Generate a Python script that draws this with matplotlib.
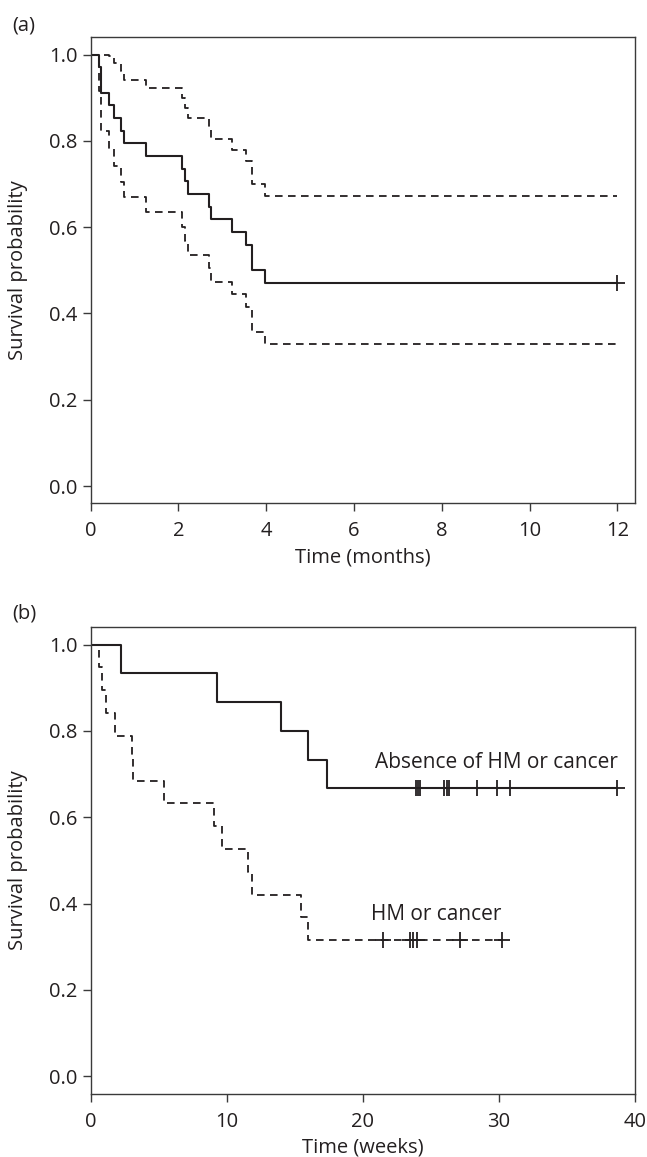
import matplotlib
matplotlib.use("Agg")
import matplotlib.pyplot as plt

plt.rcParams['font.family'] = ['Open Sans', 'DejaVu Sans']

INK = '#231f20'

# ---------------- Panel (a) data (months) ----------------
times_a = [0, 0.19, 0.24, 0.42, 0.52, 0.68, 0.77, 1.25, 2.07, 2.14, 2.22,
           2.69, 2.75, 3.21, 3.54, 3.67, 3.96, 12.0]
surv_a = [1.0, 0.971, 0.912, 0.882, 0.853, 0.824, 0.794, 0.765, 0.735, 0.706,
          0.676, 0.647, 0.618, 0.588, 0.559, 0.500, 0.471, 0.471]
upper_a = [1.0, 1.0, 1.0, 0.997, 0.981, 0.963, 0.942, 0.922, 0.899, 0.877,
           0.853, 0.829, 0.805, 0.779, 0.753, 0.700, 0.672, 0.672]
lower_a = [1.0, 0.916, 0.822, 0.780, 0.742, 0.705, 0.669, 0.635, 0.601, 0.568,
           0.536, 0.505, 0.474, 0.444, 0.415, 0.357, 0.330, 0.330]
censor_a_t = [12.0]
censor_a_s = [0.471]

# ---------------- Panel (b) data (weeks) ----------------
times_absent = [0, 2.23, 9.26, 14.02, 16.0, 17.37, 38.7]
surv_absent = [1.0, 0.933, 0.867, 0.800, 0.733, 0.667, 0.667]
censor_absent_t = [23.9, 24.04, 24.19, 26.0, 26.17, 26.34, 28.38, 29.85, 30.82, 38.7]
censor_absent_s = [0.667] * 10

times_hm = [0, 0.61, 0.85, 1.1, 1.79, 3.01, 3.13, 5.41, 9.09, 9.63, 11.59,
            11.88, 15.46, 15.95, 30.22]
surv_hm = [1.0, 0.947, 0.895, 0.842, 0.789, 0.737, 0.684, 0.632, 0.579, 0.526,
           0.474, 0.421, 0.368, 0.316, 0.316]
censor_hm_t = [21.5, 23.48, 23.72, 23.97, 27.15, 30.22]
censor_hm_s = [0.316] * 6

yticks = [0.0, 0.2, 0.4, 0.6, 0.8, 1.0]
yticklabels = ['0.0', '0.2', '0.4', '0.6', '0.8', '1.0']
xticks_a = [0, 2, 4, 6, 8, 10, 12]
xticks_b = [0, 10, 20, 30, 40]

W, H = 647, 1157
fig = plt.figure(figsize=(W / 100, H / 100), dpi=100)

def frac(left, top, right, bottom):
    return [left / W, 1 - bottom / H, (right - left) / W, (bottom - top) / H]

ax_a = fig.add_axes(frac(90.7, 37.3, 635, 503.3))
ax_b = fig.add_axes(frac(90.7, 627.3, 635, 1093.6))

dash = (0, (4.2, 3.0))
FS = 14.5

def style(ax, xticks, xlim, xlabel):
    ax.set_xlim(*xlim)
    ax.set_ylim(-0.04, 1.04)
    ax.set_xticks(xticks)
    ax.set_xticklabels([str(t) for t in xticks])
    ax.set_yticks(yticks)
    ax.set_yticklabels(yticklabels)
    for s in ax.spines.values():
        s.set_color('#3a3a3a')
        s.set_linewidth(1.0)
    ax.tick_params(direction='out', length=5.5, width=1.0, color='#3a3a3a',
                   labelsize=FS, labelcolor=INK)
    ax.tick_params(axis='x', pad=7.5)
    ax.tick_params(axis='y', pad=4)
    ax.set_xlabel(xlabel, fontsize=FS, color=INK, labelpad=4.5)
    ax.set_ylabel('Survival probability', fontsize=FS, color=INK, labelpad=15)

MK = dict(linestyle='none', marker='+', markersize=11, mew=1.3, color=INK)

# Panel (a)
ax_a.step(times_a, surv_a, where='post', color=INK, lw=1.5)
ax_a.step(times_a, upper_a, where='post', color=INK, lw=1.3, linestyle=dash)
ax_a.step(times_a, lower_a, where='post', color=INK, lw=1.3, linestyle=dash)
ax_a.plot(censor_a_t, censor_a_s, **MK)
style(ax_a, xticks_a, (0, 12.4), 'Time (months)')

# Panel (b)
ax_b.step(times_absent, surv_absent, where='post', color=INK, lw=1.5)
ax_b.plot(censor_absent_t, censor_absent_s, **MK)
ax_b.step(times_hm, surv_hm, where='post', color=INK, lw=1.3, linestyle=dash)
ax_b.plot(censor_hm_t, censor_hm_s, **MK)
ax_b.text(38.77, 0.714, 'Absence of HM or cancer', ha='right', va='baseline',
          fontsize=FS + 0.5, color=INK)
ax_b.text(30.2, 0.363, 'HM or cancer', ha='right', va='baseline',
          fontsize=FS + 0.5, color=INK)
style(ax_b, xticks_b, (0, 40), 'Time (weeks)')

fig.text(12 / W, 1 - 25 / H, '(a)', ha='left', va='center', fontsize=FS, color=INK)
fig.text(12 / W, 1 - 613 / H, '(b)', ha='left', va='center', fontsize=FS, color=INK)

fig.savefig('out.png', dpi=100)
